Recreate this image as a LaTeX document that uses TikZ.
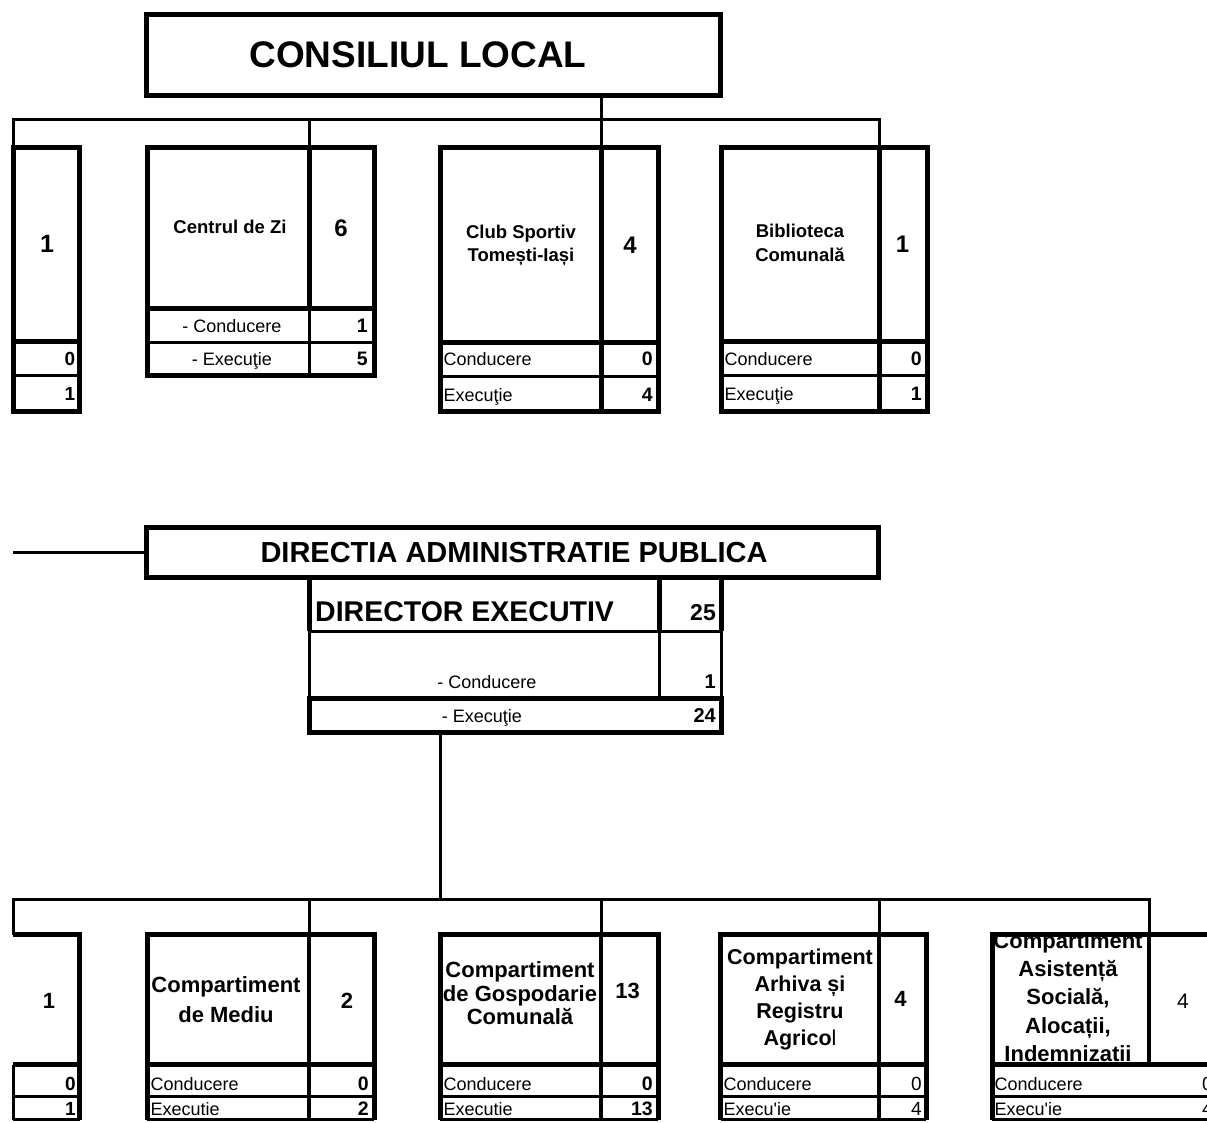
\documentclass[tikz,border=0pt]{standalone}
\usepackage{fontspec}
\setmainfont{Liberation Sans}
\newfontfamily\nolig{Liberation Sans}
\usetikzlibrary{fit}
\begin{document}
\begin{tikzpicture}[x=1pt,y=-1pt,
  thk/.style={line width=5pt},
  mid/.style={line width=3pt},
  dv/.style={line width=4pt},
  conn/.style={line width=3pt},
  frame/.style={draw, line width=5pt, inner sep=0pt, outer sep=0pt},
  area/.style={inner sep=0pt, outer sep=0pt},
  bf/.style={font=\bfseries\fontsize{#1}{#1}\selectfont, inner sep=0pt},
  rg/.style={font=\fontsize{#1}{#1}\selectfont, inner sep=0pt}]
\useasboundingbox (0,0) rectangle (1207,1123);
\clip (0,0) rectangle (1207,1123);

% ---------- CONSILIUL LOCAL ----------
\node[frame, fit={(146.5,14.5) (720.5,95.5)}] (cl) {};
\node[bf=37, anchor=base] (clt) at (418,68) {CONSILIUL LOCAL};

% ---------- top row ----------
% box 1
\node[frame, fit={(13,147.5) (79.5,411.5)}] (t1) {};
\draw[mid] (13,375) -- (79.5,375);
\draw[thk] (13,341) -- (79.5,341);
\node[bf=25, anchor=base] (t1n) at (47,253) {1};
\node[bf=19, anchor=base east] (t1c) at (75.5,365) {0};
\node[bf=19, anchor=base east] (t1e) at (75.5,400) {1};

% Centrul de Zi
\node[frame, fit={(147,147.5) (374,375)}] (zi) {};
\draw[mid] (309,308.5) -- (309,375) (147,342) -- (374,342);
\draw[thk] (147,308.5) -- (374,308.5) (309,147.5) -- (309,308.5);
\node[bf=18.5, anchor=base] (zit) at (230,234) {Centrul de Zi};
\node[bf=24, anchor=base] (zin) at (341,237) {6};
\node[rg=18, anchor=base] (zic) at (232,332) {- Conducere};
\node[bf=19.5, anchor=base east] (zicn) at (368,332) {1};
\node[rg=18, anchor=base] (zie) at (232,365) {- Execuţie};
\node[bf=19.5, anchor=base east] (zien) at (368,365) {5};

% Club Sportiv
\node[frame, fit={(440,147.5) (658,411.5)}] (club) {};
\draw[mid] (440,376.5) -- (658,376.5);
\draw[thk] (440,342) -- (658,342) (601,147.5) -- (601,411.5);
\node[bf=18.5, anchor=base] (club1) at (521,238.3) {Club Sportiv};
\node[bf=18.5, anchor=base] (club2) at (521,261.7) {Tomești-Iași};
\node[bf=24, anchor=base] (clubn) at (630,254) {4};
\node[rg=18, anchor=base west] (clubc) at (443.5,365) {Conducere};
\node[bf=19.5, anchor=base east] (clubcn) at (653,365) {0};
\node[rg=18, anchor=base west] (clube) at (443.5,401.5) {Execuţie};
\node[bf=19.5, anchor=base east] (cluben) at (653,401.5) {4};

% Biblioteca
\node[frame, fit={(721,148) (927,411)}] (bib) {};
\draw[mid] (721,375.5) -- (927,375.5);
\draw[thk] (721,341.5) -- (927,341.5) (879,148) -- (879,411);
\node[bf=18.5, anchor=base] (bib1) at (800,237.5) {Biblioteca};
\node[bf=18.5, anchor=base] (bib2) at (800,262) {Comunală};
\node[bf=24, anchor=base] (bibn) at (902.5,252.7) {1};
\node[rg=18, anchor=base west] (bibc) at (724.5,365) {Conducere};
\node[bf=19.5, anchor=base east] (bibcn) at (922,365) {0};
\node[rg=18, anchor=base west] (bibe) at (724.5,400.5) {Execuţie};
\node[bf=19.5, anchor=base east] (biben) at (922,400.5) {1};

% bus 1
\coordinate (zitop) at (309,147.5);
\coordinate (clubtop) at (601,147.5);
\coordinate (bibtop) at (879,148);
\coordinate (bus1) at (13,120);
\draw[conn] (t1.north west) -- (bus1) -| (bibtop);
\draw[conn] (zitop) -- (zitop |- bus1);
\draw[conn] (cl.south -| clubtop) -- (clubtop);

% ---------- DIRECTIA ----------
\coordinate (dirl) at (13,552.5);
\node[frame, fit={(146.5,527.5) (878.5,577.5)}] (dir) {};
\draw[conn] (dirl) -- (dir.west);
\node[bf=29, anchor=base] (dirt) at (514,562) {DIRECTIA ADMINISTRATIE PUBLICA};

% DIRECTOR EXECUTIV
\node[area, fit={(309,577.5) (721,732.5)}] (dex) {};
\draw[mid] (309,631) -- (721,631) (309,631) -- (309,698.5) (659.5,631) -- (659.5,698.5) (721,631) -- (721,698.5);
\draw[thk] (309,577.5) -- (309,631) (659.5,577.5) -- (659.5,631) (721,577.5) -- (721,631);
\draw[thk] (309,698.5) rectangle (721,732.5);
\node[bf=28.5, anchor=base west] (dext) at (315,621) {DIRECTOR EXECUTIV};
\node[bf=23, anchor=base east] (dexn) at (716,620) {25};
\node[rg=18, anchor=base] (dexc) at (487,688) {- Conducere};
\node[bf=20, anchor=base east] (dexcn) at (716,688) {1};
\node[rg=18, anchor=base] (dexe) at (482,722) {- Execuţie};
\node[bf=20, anchor=base east] (dexen) at (716,722) {24};

% bus 2
\coordinate (gx) at (440,899);
\draw[conn] (dex.south -| gx) -- (gx);
\node[area, fit={(13,934.5) (79.5,1119.5)}] (bb1) {};
\coordinate (medtop) at (309,934.5);
\coordinate (gostop) at (601,934.5);
\coordinate (arhtop) at (879,934.5);
\coordinate (astop) at (1149,934.5);
\draw[conn] (bb1.north west) -- ++(0,-35.5) -| (astop);
\draw[conn] (medtop) -- (medtop |- gx);
\draw[conn] (gostop) -- (gostop |- gx);
\draw[conn] (arhtop) -- (arhtop |- gx);

% ---------- bottom row ----------
% box 1
\draw[mid] (13,1064.5) -- (13,1119.5) (13,1096.5) -- (79.5,1096.5) (13,1119.5) -- (79.5,1119.5);
\draw[thk] (13,934.5) -- (79.5,934.5) -- (79.5,1119.5) (13,1064.5) -- (79.5,1064.5);
\node[bf=22, anchor=base] (bb1n) at (49,1008) {1};
\node[bf=19, anchor=base east] (bb1c) at (76,1090) {0};
\node[bf=19, anchor=base east] (bb1e) at (76,1115) {1};

% Compartiment de Mediu
\node[area, fit={(147,934.5) (374,1119.5)}] (med) {};
\draw[mid] (147,1096.5) -- (374,1096.5) (147,1119.5) -- (374,1119.5);
\draw[dv] (309,934.5) -- (309,1119.5);
\draw[thk] (147,1119.5) -- (147,934.5) -- (374,934.5) -- (374,1119.5) (147,1064.5) -- (374,1064.5);
\node[bf=22, anchor=base] (med1) at (226,992.5) {Compartiment};
\node[bf=22, anchor=base] (med2) at (226,1022.5) {de Mediu};
\node[bf=22, anchor=base] (medn) at (347,1008) {2};
\node[rg=18, anchor=base west] (medc) at (150.5,1090) {Conducere};
\node[bf=19.5, anchor=base east] (medcn) at (369,1090) {0};
\node[rg=18, anchor=base west] (mede) at (150.5,1115) {Executie};
\node[bf=19.5, anchor=base east] (meden) at (369,1115) {2};

% Compartiment de Gospodarie Comunala
\node[area, fit={(440,934.5) (658,1119.5)}] (gos) {};
\draw[mid] (440,1096.5) -- (658,1096.5) (440,1119.5) -- (658,1119.5);
\draw[dv] (601,934.5) -- (601,1119.5);
\draw[thk] (440,1119.5) -- (440,934.5) -- (658,934.5) -- (658,1119.5) (440,1064.5) -- (658,1064.5);
\node[bf=22, anchor=base] (gos1) at (520,977.5) {Compartiment};
\node[bf=22, anchor=base] (gos2) at (520,1001) {de Gospodarie};
\node[bf=22, anchor=base] (gos3) at (520,1024.5) {Comunală};
\node[bf=22, anchor=base] (gosn) at (627.5,998.3) {13};
\node[rg=18, anchor=base west] (gosc) at (443.5,1090) {Conducere};
\node[bf=19.5, anchor=base east] (goscn) at (653,1090) {0};
\node[rg=18, anchor=base west] (gose) at (443.5,1115) {Executie};
\node[bf=19.5, anchor=base east] (gosen) at (653,1115) {13};

% Compartiment Arhiva si Registru Agricol
\node[area, fit={(720.5,934.5) (926,1119.5)}] (arh) {};
\draw[mid] (720.5,1096.5) -- (926,1096.5) (720.5,1119.5) -- (926,1119.5);
\draw[dv] (879,934.5) -- (879,1119.5);
\draw[thk] (720.5,1119.5) -- (720.5,934.5) -- (926,934.5) -- (926,1119.5) (720.5,1064.5) -- (926,1064.5);
\node[bf=21.5, anchor=base] (arh1) at (800,964.5) {Compartiment};
\node[bf=21.5, anchor=base] (arh2) at (800,991.5) {Arhiva și};
\node[bf=21.5, anchor=base] (arh3) at (800,1018.5) {Registru};
\node[bf=21.5, anchor=base] (arh4) at (800,1045.5) {Agrico\mdseries l};
\node[bf=22, anchor=base] (arhn) at (900.5,1006) {4};
\node[rg=18, anchor=base west] (arhc) at (723.5,1090) {Conducere};
\node[rg=19, anchor=base east] (arhcn) at (922,1090) {0};
\node[rg=18, anchor=base west] (arhe) at (723.5,1115) {\nolig Execu'ie};
\node[rg=19, anchor=base east] (arhen) at (922,1115) {4};

% Compartiment Asistenta Sociala
\begin{scope}
\clip (994.5,937) rectangle (1146.5,1062);
\foreach \s [count=\i] in {Compartiment, Asistență, {Socială,}, {Alocații,}, Indemnizatii}
  \node[bf=22, anchor=base] (ast\i) at (1068,{948.5+28.2*(\i-1)}) {\s};
\end{scope}
\node[area, fit={(992,934.5) (1215,1119.5)}] (ast) {};
\draw[mid] (992,1096.5) -- (1215,1096.5) (992,1119.5) -- (1215,1119.5);
\draw[dv] (1149,934.5) -- (1149,1064.5);
\draw[thk] (992,1119.5) -- (992,934.5) -- (1215,934.5) (992,1064.5) -- (1215,1064.5);
\node[rg=21, anchor=base] (astn) at (1183,1008) {4};
\node[rg=18, anchor=base west] (astc) at (994.5,1090) {Conducere};
\node[rg=19, anchor=base east] (astcn) at (1213,1090) {0};
\node[rg=18, anchor=base west] (aste) at (994.5,1115) {\nolig Execu'ie};
\node[rg=19, anchor=base east] (asten) at (1213,1115) {4};
\end{tikzpicture}
\end{document}
